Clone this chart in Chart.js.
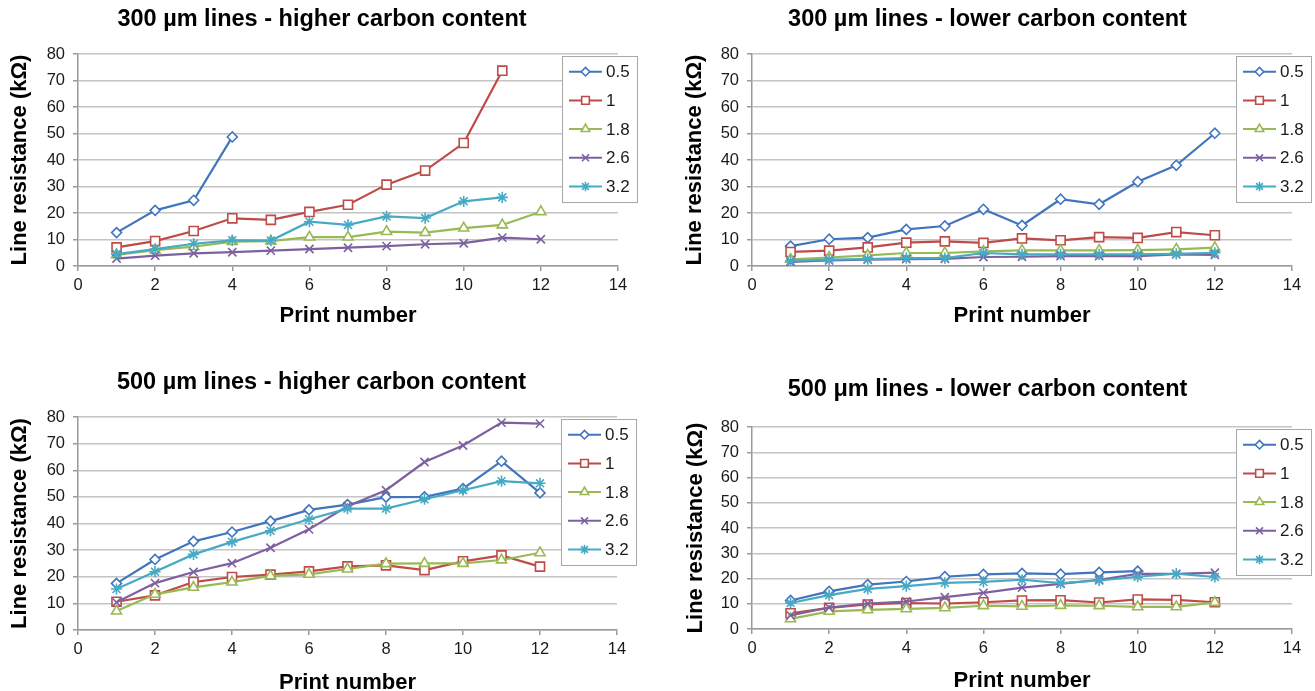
<!DOCTYPE html>
<html>
<head>
<meta charset="utf-8">
<script src="https://cdn.jsdelivr.net/npm/chart.js@4.4.1/dist/chart.umd.min.js"></script>
<style>
html,body{margin:0;padding:0;background:#fff;}
#wrap{position:relative;width:1315px;height:691px;overflow:hidden;background:#fff;}
canvas{position:absolute;}
</style>
</head>
<body>
<div id="wrap">
<canvas id="c1" width="657" height="345" style="left:0;top:0"></canvas>
<canvas id="c2" width="658" height="345" style="left:657px;top:0"></canvas>
<canvas id="c3" width="657" height="346" style="left:0;top:345px"></canvas>
<canvas id="c4" width="658" height="346" style="left:657px;top:345px"></canvas>
</div>
<script>
// ---------- data ----------
const printNumbers = [1, 2, 3, 4, 5, 6, 7, 8, 9, 10, 11, 12];
const seriesNames = ['0.5', '1', '1.8', '2.6', '3.2'];
const xTickValues = [0, 2, 4, 6, 8, 10, 12, 14];
const yTickValues = [0, 10, 20, 30, 40, 50, 60, 70, 80];

// 300 µm lines - higher carbon content
const hi300_05 = [12.6, 21.0, 24.8, 48.7];
const hi300_1  = [7.0, 9.4, 13.2, 18.0, 17.4, 20.4, 23.1, 30.7, 36.0, 46.4, 73.7];
const hi300_18 = [4.2, 6.0, 7.3, 9.2, 9.4, 10.9, 10.9, 13.0, 12.6, 14.3, 15.5, 20.5];
const hi300_26 = [2.8, 3.9, 4.8, 5.2, 5.8, 6.4, 6.9, 7.5, 8.2, 8.6, 10.7, 10.1];
const hi300_32 = [4.5, 6.4, 8.4, 9.7, 9.6, 16.7, 15.5, 18.7, 18.1, 24.4, 25.9];

// 300 µm lines - lower carbon content
const lo300_05 = [7.5, 10.1, 10.7, 13.8, 15.1, 21.4, 15.3, 25.2, 23.3, 31.8, 38.0, 50.1];
const lo300_1  = [5.3, 5.8, 7.0, 8.8, 9.3, 8.7, 10.4, 9.7, 10.9, 10.6, 12.8, 11.6];
const lo300_18 = [2.5, 3.2, 4.0, 4.9, 4.9, 5.5, 5.9, 5.9, 5.9, 6.0, 6.3, 6.9];
const lo300_26 = [1.5, 2.1, 2.4, 2.6, 2.7, 3.4, 3.5, 3.7, 3.7, 3.7, 4.4, 4.2];
const lo300_32 = [1.9, 2.4, 2.6, 3.0, 3.0, 4.9, 4.4, 4.4, 4.4, 4.4, 4.6, 5.0];

// 500 µm lines - higher carbon content
const hi500_05 = [17.5, 26.5, 33.3, 36.8, 40.9, 45.1, 47.1, 49.9, 50.0, 53.1, 63.4, 51.5];
const hi500_1  = [10.6, 13.0, 18.0, 19.9, 20.8, 22.0, 23.9, 24.3, 22.5, 25.8, 28.0, 23.8];
const hi500_18 = [7.1, 13.4, 16.0, 18.0, 20.3, 20.9, 22.9, 24.9, 25.0, 25.0, 26.3, 29.0];
const hi500_26 = [10.4, 17.6, 21.8, 25.1, 30.9, 37.8, 46.5, 52.5, 63.1, 69.3, 77.9, 77.5];
const hi500_32 = [15.4, 21.9, 28.4, 33.1, 37.3, 41.6, 45.6, 45.6, 49.1, 52.5, 55.9, 55.1];

// 500 μm lines - lower carbon content
const lo500_05 = [11.3, 14.9, 17.6, 18.8, 20.7, 21.6, 22.0, 21.7, 22.4, 22.9];
const lo500_1  = [6.2, 8.4, 9.7, 10.3, 10.1, 10.6, 11.3, 11.4, 10.5, 11.7, 11.5, 10.6];
const lo500_18 = [4.0, 7.0, 7.6, 8.0, 8.4, 9.2, 9.0, 9.3, 9.2, 8.8, 8.8, 10.5];
const lo500_26 = [5.4, 8.5, 10.1, 10.9, 12.6, 14.3, 16.4, 17.9, 19.5, 21.8, 21.8, 22.3];
const lo500_32 = [10.3, 13.4, 15.9, 17.0, 18.3, 18.7, 19.5, 18.2, 19.2, 20.7, 21.9, 20.6];

const titles = [
  '300 µm lines - higher carbon content',
  '300 µm lines - lower carbon content',
  '500 µm lines - higher carbon content',
  '500 μm lines - lower carbon content'
];
const xTitle = 'Print number';
const yTitle = 'Line resistance (kΩ)';

// ---------- styles ----------
const FONT = '"Liberation Sans", Arial, Helvetica, sans-serif';
const colors = ['#4175BE', '#BE4B48', '#98B954', '#7D60A0', '#46AAC5'];
const pointStyles = ['rectRot', 'rect', 'triangle', 'crossRot', 'star'];
const pointRadii = [5, 6.4, 5.8, 5.8, 5.6];
const TITLE_SIZE = 23.5, AXIS_TITLE_SIZE = 22, TICK_SIZE = 16.5, LEGEND_SIZE = 17;
const PAD_LEFT = 26;

const boxLegend = {
  id: 'boxLegend',
  afterDraw(chart, args, o) {
    const ctx = chart.ctx, a = chart.chartArea;
    const x0 = Math.round(a.right + o.dx), y0 = Math.round(a.top + o.dy);
    ctx.save();
    ctx.fillStyle = '#ffffff';
    ctx.fillRect(x0, y0, o.w, o.h);
    ctx.strokeStyle = '#a8a8a8';
    ctx.lineWidth = 1;
    ctx.strokeRect(x0 + 0.5, y0 + 0.5, o.w, o.h);
    chart.data.datasets.forEach((ds, i) => {
      const cy = y0 + o.first + i * o.step;
      ctx.strokeStyle = ds.borderColor;
      ctx.lineWidth = 2;
      ctx.beginPath();
      ctx.moveTo(x0 + o.lx0, cy);
      ctx.lineTo(x0 + o.lx1, cy);
      ctx.stroke();
      ctx.fillStyle = '#ffffff';
      ctx.lineWidth = ds.pointBorderWidth;
      Chart.helpers.drawPoint(ctx, {
        pointStyle: ds.pointStyle, radius: ds.pointRadius * 0.85, rotation: 0,
        borderWidth: ds.pointBorderWidth
      }, x0 + (o.lx0 + o.lx1) / 2, cy);
      ctx.fillStyle = '#1a1a1a';
      ctx.font = LEGEND_SIZE + 'px ' + FONT;
      ctx.textBaseline = 'middle';
      ctx.textAlign = 'left';
      ctx.fillText(ds.label, x0 + o.tx, cy + 1);
    });
    ctx.restore();
  }
};

function makeChart(id, title, series, g) {
  const canvas = document.getElementById(id);
  const W = canvas.width, H = canvas.height;
  const datasets = series.map((vals, i) => ({
    label: seriesNames[i],
    data: vals.map((v, j) => ({ x: printNumbers[j], y: v })),
    borderColor: colors[i],
    backgroundColor: colors[i],
    borderWidth: 2.2,
    pointStyle: pointStyles[i],
    pointRadius: pointRadii[i],
    pointBorderWidth: 1.6,
    pointBorderColor: colors[i],
    pointBackgroundColor: '#ffffff',
    tension: 0,
    order: 4 - i
  }));
  const lhT = TITLE_SIZE * 1.2, lhA = AXIS_TITLE_SIZE * 1.2;
  const tTop = g.titleCY - lhT / 2;
  const tBot = g.top - tTop - lhT;
  return new Chart(canvas, {
    type: 'line',
    data: { datasets },
    plugins: [boxLegend],
    options: {
      responsive: false,
      animation: false,
      events: [],
      layout: { padding: { left: PAD_LEFT, top: 0, bottom: 0, right: W - g.right } },
      plugins: {
        legend: { display: false },
        tooltip: { enabled: false },
        title: {
          display: true, text: title, color: '#000',
          font: { family: FONT, size: TITLE_SIZE, weight: 'bold' },
          padding: { top: tTop, bottom: tBot }
        },
        boxLegend: { dx: -56, dy: 2, w: 75, h: 146, first: 15.7, step: 28.7, lx0: 7, lx1: 40, tx: 44 }
      },
      scales: {
        x: {
          type: 'linear', min: 0, max: 14,
          afterBuildTicks: s => { s.ticks = xTickValues.map(v => ({ value: v })); },
          afterFit: s => { s.height = H - g.bottom; s.paddingLeft = 0; s.paddingRight = 0; },
          ticks: { color: '#1a1a1a', font: { family: FONT, size: TICK_SIZE }, padding: 5, maxRotation: 0 },
          grid: { drawOnChartArea: false, drawTicks: true, tickLength: 5, tickColor: '#9a9a9a', lineWidth: 1.5 },
          border: { display: true, color: '#9a9a9a', width: 1.5 },
          title: {
            display: true, text: xTitle, color: '#000',
            font: { family: FONT, size: AXIS_TITLE_SIZE, weight: 'bold' },
            padding: { top: 0, bottom: H - g.xTitleCY - lhA / 2 }
          }
        },
        y: {
          type: 'linear', min: 0, max: 80,
          afterBuildTicks: s => { s.ticks = yTickValues.map(v => ({ value: v })); },
          afterFit: s => { s.width = g.left - PAD_LEFT; s.paddingTop = 0; s.paddingBottom = 0; },
          ticks: { color: '#1a1a1a', font: { family: FONT, size: TICK_SIZE }, padding: 8 },
          grid: { color: '#c4c4c4', lineWidth: 1.5, drawTicks: true, tickLength: 5, tickColor: '#9a9a9a' },
          border: { display: true, color: '#9a9a9a', width: 1.5 },
          title: {
            display: true, text: yTitle, color: '#000',
            font: { family: FONT, size: AXIS_TITLE_SIZE, weight: 'bold' },
            padding: { top: g.yTitleCX - lhA / 2 - PAD_LEFT, bottom: 0 }
          }
        }
      }
    }
  });
}

makeChart('c1', titles[0], [hi300_05, hi300_1, hi300_18, hi300_26, hi300_32],
  { left: 78, right: 618, top: 54, bottom: 266, titleCY: 20, xTitleCY: 316, yTitleCX: 19.5 });
makeChart('c2', titles[1], [lo300_05, lo300_1, lo300_18, lo300_26, lo300_32],
  { left: 95, right: 635, top: 54, bottom: 266, titleCY: 20, xTitleCY: 316, yTitleCX: 38 });
makeChart('c3', titles[2], [hi500_05, hi500_1, hi500_18, hi500_26, hi500_32],
  { left: 78, right: 617, top: 72, bottom: 285, titleCY: 38, xTitleCY: 338, yTitleCX: 19.5 });
makeChart('c4', titles[3], [lo500_05, lo500_1, lo500_18, lo500_26, lo500_32],
  { left: 95, right: 635, top: 82, bottom: 284, titleCY: 45, xTitleCY: 336, yTitleCX: 39 });
</script>
</body>
</html>
